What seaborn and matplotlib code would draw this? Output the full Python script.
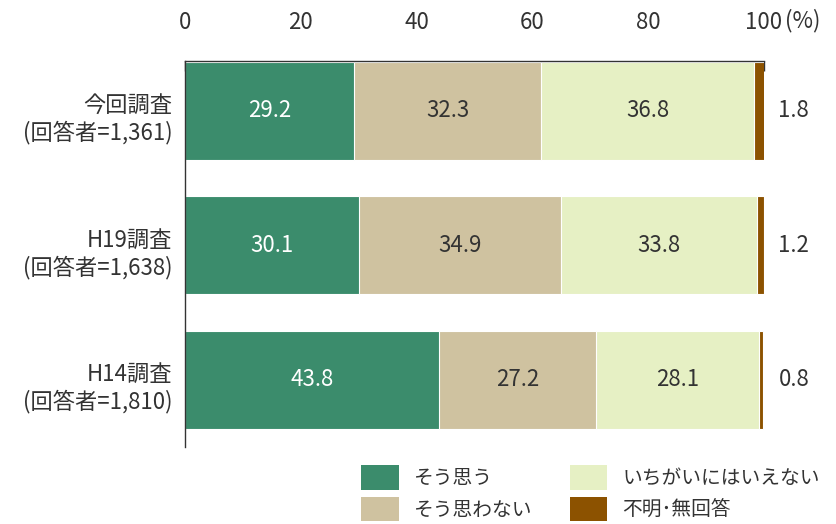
import matplotlib
matplotlib.use("Agg")
import matplotlib.pyplot as plt
import matplotlib.transforms as mtransforms
import seaborn as sns
import pandas as pd
import numpy as np
from matplotlib.patches import Patch

sns.set_style("white")
plt.rcParams['font.family'] = ['Noto Sans CJK JP', 'DejaVu Sans']

categories = ["今回調査\n(回答者=1,361)", "H19調査\n(回答者=1,638)", "H14調査\n(回答者=1,810)"]
series_names = ["そう思う", "そう思わない", "いちがいにはいえない", "不明･無回答"]
sou_omou = [29.2, 30.1, 43.8]
sou_omowanai = [32.3, 34.9, 27.2]
ichigai = [36.8, 33.8, 28.1]
fumei = [1.8, 1.2, 0.8]
colors = ["#3B8C6C", "#CFC2A0", "#E6F0C4", "#8C5200"]
tick_values = [0, 20, 40, 60, 80, 100]

values = [sou_omou, sou_omowanai, ichigai, fumei]
cum = np.cumsum(np.array(values), axis=0)

fig = plt.figure(figsize=(8.37, 5.24), dpi=100)
ax = fig.add_axes([185/837, 1-447/524, (764-185)/837, (447-61)/524])

text_color = "#333333"
# draw cumulative bars from largest to smallest so segments stack visually
for i in range(len(series_names)-1, -1, -1):
    df = pd.DataFrame({"cat": categories, "val": cum[i]})
    sns.barplot(data=df, x="val", y="cat", orient="h", color=colors[i],
                width=0.73, edgecolor="white", linewidth=0.8, ax=ax, saturation=1)

ax.set_xlim(0, 100)
ax.set_ylim(2.5, -0.37)
ax.set_xlabel("")
ax.set_ylabel("")

# value labels
for j in range(len(categories)):
    for i in range(3):
        left = cum[i][j] - values[i][j]
        cx = left + values[i][j] / 2
        ax.text(cx, j, f"{values[i][j]:.1f}", ha="center", va="center",
                fontsize=16, color="white" if i == 0 else text_color)
    ax.text(102.5, j, f"{fumei[j]:.1f}", ha="left", va="center",
            fontsize=16, color=text_color)

ax.xaxis.tick_top()
ax.set_xticks(tick_values)
ax.set_xticklabels([str(v) for v in tick_values])
ax.tick_params(axis="x", direction="in", length=7.5, width=1, color="#333333",
               labelsize=16, labelcolor=text_color, pad=19.5, top=True, bottom=False)
ax.tick_params(axis="y", length=0, labelsize=16, labelcolor=text_color, pad=9)
shift = mtransforms.ScaledTranslation(0, -4/100, fig.dpi_scale_trans)
for lbl in ax.get_yticklabels():
    lbl.set_linespacing(1.2)
    lbl.set_ha("right")
    lbl.set_transform(lbl.get_transform() + shift)

ax.text(103.7, 1 + (61 - 21) / 386, "(%)", transform=ax.get_xaxis_transform(),
        ha="left", va="center", fontsize=16, color=text_color)

for s in ["right", "bottom"]:
    ax.spines[s].set_visible(False)
for s in ["top", "left"]:
    ax.spines[s].set_color("#333333")
    ax.spines[s].set_linewidth(1)

handles = [Patch(facecolor=c, edgecolor="none") for c in colors]
fig.legend(handles, series_names, loc="upper left",
           bbox_to_anchor=(361/837, 1-465/524), ncol=2, frameon=False,
           fontsize=14.2, handlelength=1.92, handleheight=1.55,
           handletextpad=0.75, columnspacing=1.9, labelspacing=0.35,
           borderpad=0, borderaxespad=0, labelcolor=text_color)

fig.savefig("out.png", dpi=100)
